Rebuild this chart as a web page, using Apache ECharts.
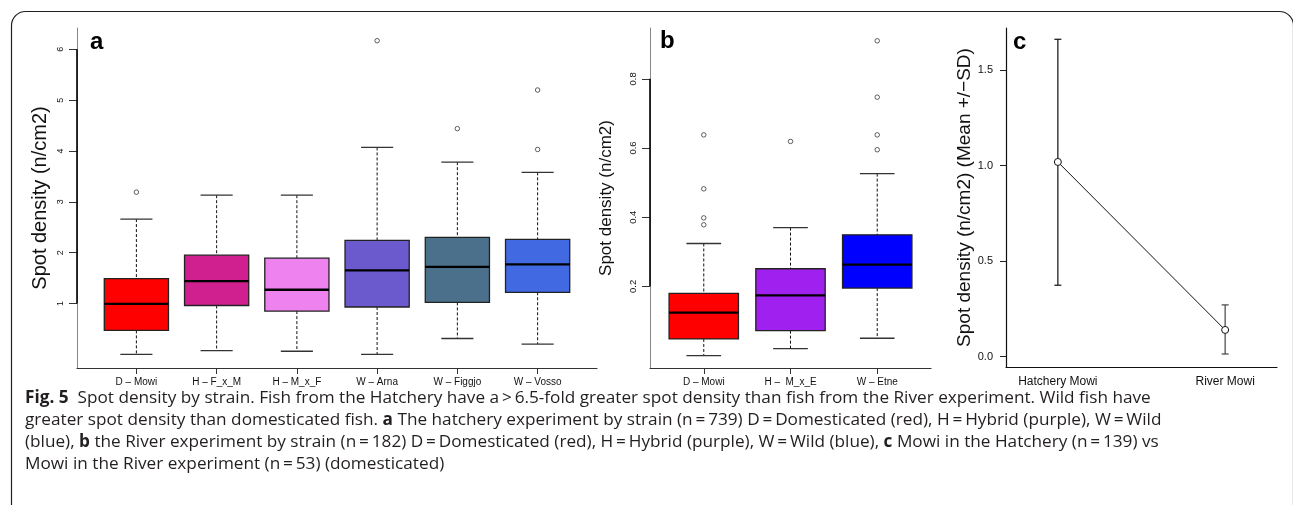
<!DOCTYPE html>
<html>
<head>
<meta charset="utf-8">
<script src="https://cdn.jsdelivr.net/npm/echarts@6/dist/echarts.min.js"></script>
<style>
html,body{margin:0;padding:0;background:#fff;}
#c{width:1293px;height:505px;}
</style>
</head>
<body>
<div id="c"></div>
<script>
// ---------- DATA ----------
// Panel a: hatchery experiment by strain
const catsA = ['D – Mowi', 'H – F_x_M', 'H – M_x_F', 'W – Arna', 'W – Figgjo', 'W – Vosso'];
const lowA  = [0.00, 0.07, 0.06, 0.00, 0.31, 0.20];
const q1A   = [0.47, 0.96, 0.85, 0.93, 1.02, 1.22];
const medA  = [0.99, 1.44, 1.27, 1.65, 1.72, 1.77];
const q3A   = [1.49, 1.95, 1.89, 2.24, 2.30, 2.26];
const highA = [2.66, 3.13, 3.13, 4.07, 3.78, 3.58];
const outA  = [[1, 3.19], [4, 6.17], [5, 4.44], [6, 5.20], [6, 4.03]];
const ticksA = [1, 2, 3, 4, 5, 6];

// Panel b: river experiment by strain
const catsB = ['D – Mowi', 'H –  M_x_E', 'W – Etne'];
const lowB  = [0.000, 0.020, 0.050];
const q1B   = [0.048, 0.072, 0.195];
const medB  = [0.124, 0.174, 0.263];
const q3B   = [0.180, 0.251, 0.349];
const highB = [0.324, 0.370, 0.526];
const outB  = [[1, 0.638], [1, 0.482], [1, 0.398], [1, 0.378], [2, 0.619],
               [3, 0.910], [3, 0.747], [3, 0.638], [3, 0.595]];
const ticksB = [0.2, 0.4, 0.6, 0.8];

// Panel c: Mowi mean +/- SD
const catsC   = ['Hatchery Mowi', 'River Mowi'];
const meanC   = [1.019, 0.140];
const sdLowC  = [0.374, 0.014];
const sdHighC = [1.661, 0.271];
const ticksC  = [0, 0.5, 1.0, 1.5];

// Caption
const captionLines = [
  '{b|Fig. 5}  Spot density by strain. Fish from the Hatchery have a\u2009>\u20096.5-fold greater spot density than fish from the River experiment. Wild fish have',
  'greater spot density than domesticated fish. {b|a} The hatchery experiment by strain (n\u2009=\u2009739) D\u2009=\u2009Domesticated (red), H\u2009=\u2009Hybrid (purple), W\u2009=\u2009Wild',
  '(blue), {b|b} the River experiment by strain (n\u2009=\u2009182) D\u2009=\u2009Domesticated (red), H\u2009=\u2009Hybrid (purple), W\u2009=\u2009Wild (blue), {b|c} Mowi in the Hatchery (n\u2009=\u2009139) vs',
  'Mowi in the River experiment (n\u2009=\u200953) (domesticated)'
];

// ---------- STYLE ----------
const colorsA = ['#FF0000', '#D02090', '#EE82EE', '#6A5ACD', '#4A708B', '#4169E1'];
const colorsB = ['#FF0000', '#A020F0', '#0000FF'];
const FONT = '"Liberation Sans", Arial, Helvetica, sans-serif';
const CAPFONT = '"Open Sans", "Noto Sans", sans-serif';
const CAPSIZE = 17.2;

function boxSeries(xi, cats, low, q1, med, q3, high, colors) {
  return {
    type: 'custom', xAxisIndex: xi, yAxisIndex: xi, clip: false, z: 3,
    data: cats.map((c, i) => [i + 1, low[i], q1[i], med[i], q3[i], high[i]]),
    encode: { x: 0, y: [1, 2, 3, 4, 5] },
    renderItem: function (params, api) {
      const x = api.value(0);
      const lo = api.coord([x, api.value(1)]);
      const a = api.coord([x, api.value(2)]);
      const m = api.coord([x, api.value(3)]);
      const b = api.coord([x, api.value(4)]);
      const hi = api.coord([x, api.value(5)]);
      const left = api.coord([x - 0.4, 0])[0], right = api.coord([x + 0.4, 0])[0];
      const cl = api.coord([x - 0.2, 0])[0], cr = api.coord([x + 0.2, 0])[0];
      const cx = lo[0];
      const dash = { stroke: '#111', lineWidth: 1, lineDash: [3, 2] };
      const cap = { stroke: '#333', lineWidth: 1.3 };
      return {
        type: 'group', children: [
          { type: 'line', shape: { x1: cx, y1: hi[1], x2: cx, y2: b[1] }, style: dash },
          { type: 'line', shape: { x1: cx, y1: a[1], x2: cx, y2: lo[1] }, style: dash },
          { type: 'line', shape: { x1: cl, y1: hi[1], x2: cr, y2: hi[1] }, style: cap },
          { type: 'line', shape: { x1: cl, y1: lo[1], x2: cr, y2: lo[1] }, style: cap },
          { type: 'rect', shape: { x: left, y: b[1], width: right - left, height: a[1] - b[1] },
            style: { fill: colors[params.dataIndex], stroke: '#222', lineWidth: 1.3 } },
          { type: 'line', shape: { x1: left, y1: m[1], x2: right, y2: m[1] }, style: { stroke: '#000', lineWidth: 2.3 } }
        ]
      };
    }
  };
}

function outlierSeries(xi, pts) {
  return {
    type: 'scatter', xAxisIndex: xi, yAxisIndex: xi, data: pts, symbol: 'circle', symbolSize: 4.5,
    itemStyle: { color: '#fff', borderColor: '#222', borderWidth: 0.9 }, z: 4, silent: true
  };
}

function axisSegment(xi, xPos, ticks, color) {
  return {
    type: 'line', xAxisIndex: xi, yAxisIndex: xi, clip: false, symbol: 'none', z: 5, silent: true,
    data: [[xPos, ticks[0]], [xPos, ticks[ticks.length - 1]]],
    lineStyle: { color: color, width: 1.6 }
  };
}

const xMinA = 0.26, xMaxA = 6.74, xMinB = 0.38, xMaxB = 3.62, xMinC = 0.69, xMaxC = 2.31;

const chart = echarts.init(document.getElementById('c'), null, { renderer: 'canvas' });

const option = {
  backgroundColor: '#fff',
  animation: false,
  grid: [
    { left: 77, top: 28, width: 520, height: 340 },
    { left: 650, top: 28, width: 281, height: 340 },
    { left: 1006, top: 28, width: 271, height: 339 }
  ],
  xAxis: [
    {
      gridIndex: 0, type: 'value', min: xMinA, max: xMaxA,
      axisLine: { show: true, onZero: false, lineStyle: { color: '#333', width: 1.2 } },
      axisTick: { show: true, customValues: catsA.map((c, i) => i + 1), length: 6, lineStyle: { color: '#333' } },
      axisLabel: { customValues: catsA.map((c, i) => i + 1), formatter: v => catsA[Math.round(v) - 1],
                   fontSize: 10, color: '#111', fontFamily: FONT, margin: 9 },
      splitLine: { show: false }
    },
    {
      gridIndex: 1, type: 'value', min: xMinB, max: xMaxB,
      axisLine: { show: true, onZero: false, lineStyle: { color: '#333', width: 1.2 } },
      axisTick: { show: true, customValues: catsB.map((c, i) => i + 1), length: 6, lineStyle: { color: '#333' } },
      axisLabel: { customValues: catsB.map((c, i) => i + 1), formatter: v => catsB[Math.round(v) - 1],
                   fontSize: 10, color: '#111', fontFamily: FONT, margin: 9 },
      splitLine: { show: false }
    },
    {
      gridIndex: 2, type: 'value', min: xMinC, max: xMaxC,
      axisLine: { show: true, onZero: false, lineStyle: { color: '#111', width: 1.2 } },
      axisTick: { show: false },
      axisLabel: { customValues: catsC.map((c, i) => i + 1), formatter: v => catsC[Math.round(v) - 1],
                   fontSize: 12, color: '#111', fontFamily: FONT, margin: 9 },
      splitLine: { show: false }
    }
  ],
  yAxis: [
    {
      gridIndex: 0, type: 'value', min: -0.27, max: 6.42,
      name: 'Spot density (n/cm2)', nameLocation: 'middle', nameRotate: 90, nameGap: 27,
      nameTextStyle: { fontSize: 20, color: '#111', fontFamily: FONT },
      axisLine: { show: true, onZero: false, lineStyle: { color: '#888', width: 1 } },
      axisTick: { show: true, customValues: ticksA, length: 8, lineStyle: { color: '#333' } },
      axisLabel: { customValues: ticksA, rotate: 90, fontSize: 9, color: '#111', fontFamily: FONT, margin: 12 },
      splitLine: { show: false }
    },
    {
      gridIndex: 1, type: 'value', min: -0.036, max: 0.947,
      name: 'Spot density (n/cm2)', nameLocation: 'middle', nameRotate: 90, nameGap: 35,
      nameTextStyle: { fontSize: 17, color: '#111', fontFamily: FONT },
      axisLine: { show: true, onZero: false, lineStyle: { color: '#888', width: 1 } },
      axisTick: { show: true, customValues: ticksB, length: 8, lineStyle: { color: '#333' } },
      axisLabel: { customValues: ticksB, rotate: 90, fontSize: 9.5, color: '#111', fontFamily: FONT, margin: 12,
                   formatter: v => v.toFixed(1) },
      splitLine: { show: false }
    },
    {
      gridIndex: 2, type: 'value', min: -0.054, max: 1.72,
      name: 'Spot density (n/cm2) (Mean +/\u2212SD)', nameLocation: 'middle', nameRotate: 90, nameGap: 28,
      nameTextStyle: { fontSize: 19, color: '#111', fontFamily: FONT },
      axisLine: { show: true, onZero: false, lineStyle: { color: '#111', width: 1.2 } },
      axisTick: { show: true, customValues: ticksC, length: 6, lineStyle: { color: '#222' } },
      axisLabel: { customValues: ticksC, fontSize: 11, color: '#111', fontFamily: FONT, margin: 13,
                   formatter: v => v.toFixed(1) },
      splitLine: { show: false }
    }
  ],
  series: [
    boxSeries(0, catsA, lowA, q1A, medA, q3A, highA, colorsA),
    outlierSeries(0, outA),
    axisSegment(0, xMinA, ticksA, '#000'),
    boxSeries(1, catsB, lowB, q1B, medB, q3B, highB, colorsB),
    outlierSeries(1, outB),
    axisSegment(1, xMinB, ticksB, '#000'),
    {
      type: 'custom', xAxisIndex: 2, yAxisIndex: 2, clip: false, z: 3,
      data: catsC.map((c, i) => [i + 1, sdLowC[i], sdHighC[i]]),
      encode: { x: 0, y: [1, 2] },
      renderItem: function (params, api) {
        const x = api.value(0);
        const lo = api.coord([x, api.value(1)]);
        const hi = api.coord([x, api.value(2)]);
        const w = 3.5;
        const st = { stroke: params.dataIndex === 0 ? '#111' : '#444', lineWidth: 1.2 };
        return {
          type: 'group', children: [
            { type: 'line', shape: { x1: lo[0], y1: lo[1], x2: hi[0], y2: hi[1] }, style: st },
            { type: 'line', shape: { x1: lo[0] - w, y1: lo[1], x2: lo[0] + w, y2: lo[1] }, style: st },
            { type: 'line', shape: { x1: hi[0] - w, y1: hi[1], x2: hi[0] + w, y2: hi[1] }, style: st }
          ]
        };
      }
    },
    {
      type: 'line', xAxisIndex: 2, yAxisIndex: 2, z: 4,
      data: catsC.map((c, i) => [i + 1, meanC[i]]),
      symbol: 'circle', symbolSize: 7,
      lineStyle: { color: '#111', width: 1 },
      itemStyle: { color: '#fff', borderColor: '#111', borderWidth: 1 }
    }
  ],
  graphic: [
    { type: 'rect', shape: { x: 11.5, y: 11.5, width: 1282, height: 700, r: 14 },
      style: { fill: 'none', stroke: '#231f20', lineWidth: 1.2 }, silent: true },
    { type: 'text', left: 90, top: 30, style: { text: 'a', font: 'bold 24px ' + FONT, fill: '#000' } },
    { type: 'text', left: 660, top: 29, style: { text: 'b', font: 'bold 24px ' + FONT, fill: '#000' } },
    { type: 'text', left: 1013, top: 30, style: { text: 'c', font: 'bold 24px ' + FONT, fill: '#000' } },
  ].concat(captionLines.map((t, i) => ({
    type: 'text', left: 25, top: 390 + i * 22,
    style: { text: t, font: CAPSIZE + 'px ' + CAPFONT, fill: '#231f20',
             rich: { b: { fontWeight: 'bold', fontSize: CAPSIZE, fontFamily: CAPFONT, fill: '#231f20' } } }
  })))
};

chart.setOption(option);
</script>
</body>
</html>
